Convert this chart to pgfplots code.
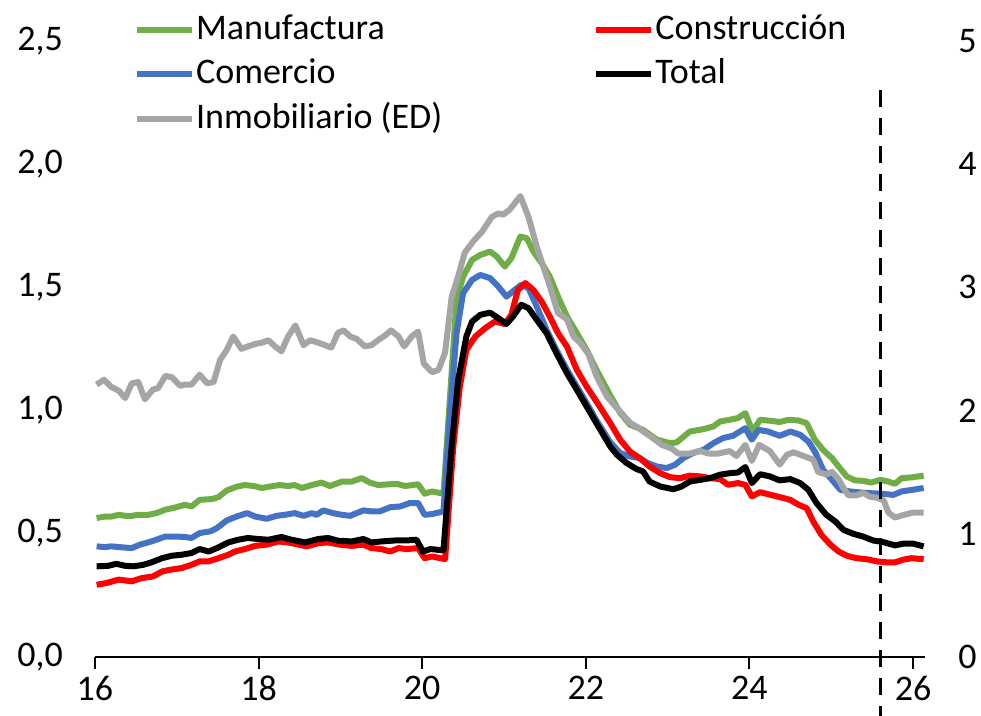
\documentclass[border=0pt]{standalone}
\usepackage{pgfplots}
\pgfplotsset{compat=1.18}
\usepackage{fontspec}
\setmainfont{Carlito}
\definecolor{cgreen}{RGB}{112,173,71}
\definecolor{cred}{RGB}{255,0,0}
\definecolor{cblue}{RGB}{68,114,196}
\definecolor{cgray}{RGB}{165,165,165}
\begin{document}
\begin{tikzpicture}
\pgfplotsset{
  base/.style={
    width=415pt, height=307.75pt, scale only axis,
    xmin=16, xmax=26.15, clip=false,
    /pgf/number format/assume math mode=true,
    tick label style={font=\fontsize{18}{21.6}\selectfont, black},
    tick align=outside, major tick length=6pt,
    every axis plot/.append style={line width=3pt, line join=round},
  }
}
\begin{axis}[base,
  ymin=0, ymax=2.5,
  ytick={0,0.5,1,1.5,2,2.5},
  yticklabel style={/pgf/number format/use comma, /pgf/number format/fixed, /pgf/number format/fixed zerofill, /pgf/number format/precision=1, xshift=-6.5pt},
  xtick={16,18,20,22,24,26},
  axis x line*=bottom, axis y line*=left,
  axis line style={-},
  x axis line style={line width=1pt, black},
  y axis line style={draw=none},
  ytick style={draw=none},
  xtick style={line width=1pt, black},
  legend columns=2,
  legend cell align=left,
  legend style={draw=none, fill=none, at={(0.046,1.055)}, anchor=north west,
    font=\fontsize{18}{21.6}\selectfont, inner sep=0pt, row sep=0pt,
    nodes={inner xsep=0.75pt, inner ysep=2pt, text height=13.75pt, text depth=4.5pt},
    /tikz/every even column/.append style={column sep=74.5pt}},
  legend image code/.code={\draw[#1] (0pt,0pt) -- (27.5pt,0pt);},
]
\coordinate (bbsw) at (axis cs:14.839,-0.2394);
\coordinate (bbne) at (axis cs:26.831,2.6664);
% Manufactura
\addplot[cgreen, forget plot] coordinates {(16.02,0.563)(16.12,0.569)(16.20,0.569)(16.29,0.576)(16.37,0.572)(16.45,0.572)(16.53,0.576)(16.65,0.576)(16.75,0.583)(16.86,0.597)(16.96,0.604)(17.10,0.617)(17.18,0.610)(17.28,0.637)(17.43,0.640)(17.51,0.648)(17.61,0.675)(17.73,0.690)(17.83,0.697)(17.94,0.693)(18.04,0.685)(18.14,0.691)(18.26,0.697)(18.36,0.693)(18.44,0.697)(18.53,0.685)(18.65,0.697)(18.77,0.707)(18.87,0.693)(19.02,0.711)(19.14,0.711)(19.26,0.725)(19.36,0.707)(19.46,0.697)(19.59,0.700)(19.69,0.702)(19.79,0.693)(19.95,0.700)(20.03,0.662)(20.12,0.671)(20.26,0.662)(20.34,1.056)(20.42,1.449)(20.50,1.543)(20.61,1.611)(20.71,1.631)(20.83,1.645)(20.91,1.625)(21.01,1.584)(21.09,1.618)(21.20,1.706)(21.28,1.699)(21.36,1.645)(21.46,1.598)(21.56,1.543)(21.66,1.462)(21.77,1.381)(21.89,1.314)(22.01,1.246)(22.13,1.165)(22.30,1.060)(22.42,0.990)(22.54,0.942)(22.70,0.921)(22.87,0.881)(23.03,0.867)(23.11,0.870)(23.27,0.914)(23.44,0.924)(23.56,0.935)(23.64,0.955)(23.76,0.962)(23.86,0.969)(23.95,0.989)(24.04,0.914)(24.13,0.962)(24.25,0.958)(24.37,0.953)(24.48,0.962)(24.60,0.959)(24.70,0.948)(24.80,0.881)(24.90,0.840)(25.01,0.806)(25.09,0.772)(25.19,0.732)(25.29,0.716)(25.39,0.714)(25.49,0.707)(25.60,0.718)(25.70,0.711)(25.78,0.702)(25.86,0.725)(25.98,0.728)(26.13,0.735)};
% Comercio
\addplot[cblue, forget plot] coordinates {(16.02,0.448)(16.12,0.445)(16.20,0.448)(16.33,0.444)(16.45,0.441)(16.55,0.455)(16.69,0.468)(16.86,0.488)(16.98,0.488)(17.10,0.486)(17.18,0.482)(17.28,0.502)(17.41,0.509)(17.49,0.522)(17.61,0.553)(17.73,0.569)(17.86,0.583)(17.96,0.569)(18.10,0.560)(18.22,0.572)(18.32,0.576)(18.44,0.583)(18.55,0.572)(18.65,0.583)(18.71,0.576)(18.79,0.594)(18.91,0.583)(19.02,0.576)(19.12,0.572)(19.28,0.594)(19.38,0.590)(19.48,0.590)(19.61,0.607)(19.73,0.610)(19.85,0.624)(19.95,0.624)(20.03,0.576)(20.12,0.579)(20.26,0.590)(20.34,0.989)(20.42,1.314)(20.50,1.476)(20.61,1.530)(20.71,1.550)(20.83,1.537)(20.93,1.503)(21.03,1.462)(21.13,1.489)(21.21,1.510)(21.30,1.496)(21.40,1.422)(21.52,1.327)(21.64,1.246)(21.77,1.165)(21.89,1.097)(22.01,1.030)(22.13,0.960)(22.30,0.870)(22.42,0.827)(22.54,0.813)(22.66,0.806)(22.76,0.786)(22.87,0.772)(22.99,0.766)(23.09,0.779)(23.19,0.806)(23.31,0.827)(23.44,0.840)(23.56,0.867)(23.68,0.888)(23.80,0.897)(23.95,0.928)(24.03,0.881)(24.11,0.921)(24.23,0.914)(24.37,0.897)(24.50,0.914)(24.62,0.901)(24.72,0.874)(24.80,0.833)(24.90,0.759)(25.01,0.718)(25.11,0.678)(25.23,0.671)(25.35,0.667)(25.47,0.664)(25.60,0.662)(25.76,0.657)(25.86,0.671)(26.00,0.678)(26.13,0.685)};
% Construccion
\addplot[cred, forget plot] coordinates {(16.02,0.292)(16.14,0.299)(16.29,0.313)(16.45,0.306)(16.57,0.319)(16.71,0.326)(16.82,0.346)(16.92,0.353)(17.06,0.360)(17.18,0.373)(17.28,0.387)(17.39,0.387)(17.51,0.400)(17.63,0.414)(17.71,0.427)(17.83,0.437)(17.96,0.450)(18.10,0.455)(18.24,0.468)(18.36,0.464)(18.49,0.455)(18.59,0.448)(18.73,0.461)(18.85,0.464)(18.99,0.455)(19.14,0.450)(19.28,0.455)(19.38,0.441)(19.50,0.437)(19.61,0.427)(19.71,0.441)(19.81,0.437)(19.95,0.441)(20.03,0.400)(20.12,0.407)(20.28,0.396)(20.38,0.853)(20.46,1.097)(20.54,1.246)(20.65,1.300)(20.77,1.334)(20.89,1.361)(21.01,1.351)(21.09,1.388)(21.17,1.489)(21.26,1.517)(21.36,1.489)(21.46,1.442)(21.56,1.381)(21.66,1.314)(21.77,1.259)(21.89,1.165)(22.01,1.097)(22.17,1.016)(22.30,0.948)(22.42,0.881)(22.54,0.833)(22.66,0.806)(22.78,0.772)(22.91,0.745)(23.03,0.729)(23.15,0.725)(23.27,0.735)(23.40,0.732)(23.52,0.725)(23.64,0.721)(23.74,0.698)(23.86,0.705)(23.95,0.698)(24.03,0.651)(24.13,0.668)(24.25,0.658)(24.37,0.648)(24.50,0.637)(24.60,0.617)(24.70,0.603)(24.78,0.549)(24.88,0.495)(24.99,0.455)(25.09,0.427)(25.19,0.410)(25.31,0.400)(25.43,0.396)(25.56,0.387)(25.68,0.383)(25.78,0.383)(25.88,0.394)(25.98,0.400)(26.13,0.396)};
% Total
\addplot[black, forget plot] coordinates {(16.02,0.367)(16.16,0.369)(16.26,0.377)(16.37,0.369)(16.47,0.367)(16.59,0.373)(16.69,0.383)(16.82,0.400)(16.94,0.410)(17.06,0.414)(17.18,0.421)(17.28,0.437)(17.39,0.427)(17.49,0.441)(17.63,0.464)(17.75,0.475)(17.87,0.482)(17.99,0.478)(18.12,0.475)(18.28,0.486)(18.40,0.475)(18.57,0.464)(18.73,0.478)(18.85,0.482)(18.97,0.471)(19.14,0.468)(19.28,0.478)(19.38,0.464)(19.50,0.468)(19.67,0.472)(19.81,0.472)(19.93,0.475)(20.01,0.427)(20.10,0.437)(20.26,0.432)(20.36,0.853)(20.44,1.124)(20.54,1.300)(20.61,1.361)(20.71,1.388)(20.83,1.397)(20.93,1.375)(21.03,1.351)(21.11,1.381)(21.21,1.429)(21.30,1.415)(21.40,1.368)(21.52,1.314)(21.64,1.233)(21.77,1.151)(21.89,1.084)(22.01,1.016)(22.13,0.948)(22.30,0.853)(22.38,0.820)(22.50,0.786)(22.62,0.762)(22.70,0.752)(22.78,0.711)(22.91,0.691)(23.07,0.680)(23.17,0.691)(23.27,0.711)(23.40,0.718)(23.52,0.725)(23.64,0.739)(23.76,0.745)(23.86,0.748)(23.95,0.770)(24.03,0.705)(24.13,0.741)(24.25,0.732)(24.37,0.716)(24.50,0.721)(24.62,0.705)(24.72,0.678)(24.82,0.624)(24.94,0.576)(25.05,0.549)(25.15,0.515)(25.27,0.499)(25.39,0.488)(25.51,0.472)(25.64,0.465)(25.78,0.452)(25.88,0.459)(26.00,0.459)(26.13,0.448)};
\addlegendimage{cgreen, line width=3pt}
\addlegendentry{Manufactura}
\addlegendimage{cred, line width=3pt}
\addlegendentry{Construcción}
\addlegendimage{cblue, line width=3pt}
\addlegendentry{Comercio}
\addlegendimage{black, line width=3pt}
\addlegendentry{Total}
\addlegendimage{cgray, line width=3pt}
\addlegendentry{Inmobiliario (ED)}
\end{axis}
\begin{axis}[base,
  ymin=0, ymax=5,
  ytick={0,1,2,3,4,5},
  yticklabel style={xshift=7pt},
  axis x line=none, axis y line*=right,
  axis line style={-},
  y axis line style={draw=none},
  ytick style={draw=none},
]
\addplot[cgray] coordinates {(16.02,2.21)(16.11,2.25)(16.20,2.19)(16.29,2.16)(16.37,2.10)(16.45,2.22)(16.53,2.23)(16.61,2.09)(16.71,2.17)(16.77,2.18)(16.86,2.28)(16.94,2.27)(17.04,2.20)(17.10,2.21)(17.18,2.21)(17.28,2.29)(17.37,2.22)(17.45,2.23)(17.53,2.41)(17.61,2.49)(17.69,2.60)(17.79,2.50)(17.87,2.52)(17.96,2.54)(18.04,2.55)(18.12,2.57)(18.20,2.52)(18.28,2.48)(18.36,2.60)(18.45,2.69)(18.55,2.53)(18.63,2.57)(18.73,2.55)(18.81,2.53)(18.89,2.51)(18.97,2.63)(19.04,2.65)(19.12,2.60)(19.20,2.58)(19.30,2.52)(19.38,2.53)(19.46,2.57)(19.55,2.61)(19.62,2.65)(19.71,2.60)(19.78,2.52)(19.87,2.60)(19.95,2.64)(20.02,2.38)(20.12,2.31)(20.20,2.33)(20.28,2.47)(20.36,2.92)(20.44,3.09)(20.52,3.28)(20.62,3.37)(20.73,3.45)(20.85,3.57)(20.93,3.60)(20.99,3.59)(21.07,3.63)(21.20,3.74)(21.30,3.57)(21.40,3.33)(21.48,3.17)(21.56,3.01)(21.66,2.79)(21.77,2.74)(21.85,2.60)(21.93,2.55)(22.03,2.46)(22.13,2.28)(22.26,2.11)(22.38,2.02)(22.46,1.96)(22.54,1.90)(22.64,1.86)(22.70,1.83)(22.81,1.78)(22.93,1.72)(23.05,1.69)(23.13,1.65)(23.27,1.65)(23.40,1.67)(23.50,1.65)(23.62,1.65)(23.76,1.67)(23.84,1.63)(23.95,1.72)(24.03,1.59)(24.12,1.72)(24.25,1.67)(24.37,1.56)(24.46,1.64)(24.54,1.66)(24.66,1.63)(24.78,1.60)(24.84,1.50)(24.94,1.48)(25.01,1.50)(25.09,1.44)(25.15,1.37)(25.21,1.31)(25.31,1.31)(25.39,1.33)(25.47,1.30)(25.56,1.29)(25.64,1.27)(25.70,1.17)(25.78,1.13)(25.88,1.15)(26.00,1.17)(26.13,1.17)};
\addplot[black, line width=1.5pt, dash pattern=on 8.5pt off 5.5pt] coordinates {(25.6,4.60)(25.6,-0.48)};
\end{axis}
\pgfresetboundingbox
\path[use as bounding box] (bbsw) rectangle (bbne);
\end{tikzpicture}
\end{document}
